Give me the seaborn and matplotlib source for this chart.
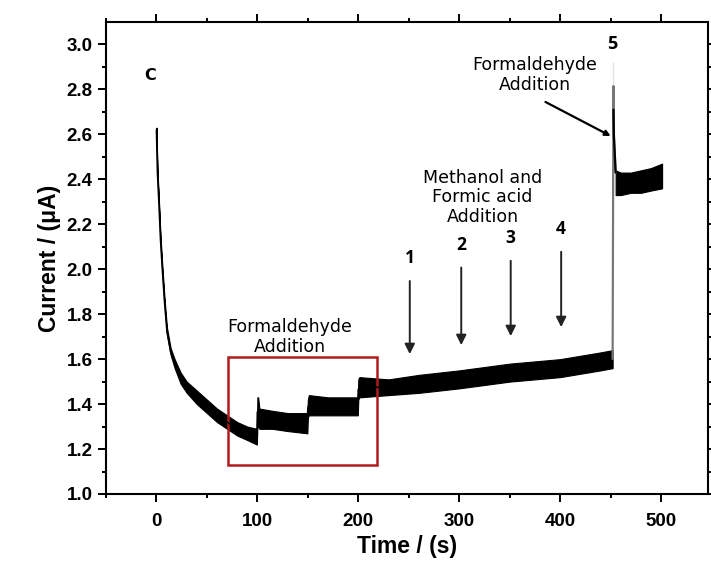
import matplotlib
matplotlib.use("Agg")
import matplotlib.pyplot as plt
from matplotlib.patches import Rectangle
import pandas as pd
import seaborn as sns

# amperometric trace, envelope of the noisy band
time_s = [0, 1, 2.3, 4, 5.6, 8, 10.4, 14, 18, 24, 30, 40, 50, 60, 70, 80, 90, 99.5,
          100, 100.8, 102, 115, 130, 149.5, 150, 151, 170, 199.5, 200, 201, 230,
          260, 300, 350, 400, 440, 452]
current_lo = [2.61, 2.42, 2.30, 2.12, 2.00, 1.84, 1.71, 1.62, 1.56, 1.49, 1.45, 1.40,
              1.36, 1.32, 1.29, 1.26, 1.24, 1.22,
              1.30, 1.30, 1.29, 1.29, 1.28, 1.27, 1.34, 1.35, 1.35, 1.35, 1.42, 1.43, 1.44,
              1.45, 1.47, 1.50, 1.52, 1.55, 1.56]
current_hi = [2.63, 2.44, 2.32, 2.15, 2.03, 1.87, 1.74, 1.65, 1.60, 1.54, 1.50, 1.46,
              1.42, 1.38, 1.35, 1.32, 1.30, 1.29,
              1.43, 1.43, 1.38, 1.37, 1.36, 1.36, 1.42, 1.44, 1.43, 1.43, 1.51, 1.52, 1.51,
              1.53, 1.55, 1.58, 1.60, 1.63, 1.64]

# second formaldehyde addition: spike and new plateau
spike_t = [452, 452.8, 452.8, 453.3, 455]
spike_i = [1.60, 2.92, 2.71, 2.59, 2.43]
plateau_t = [455, 460, 470, 480, 490, 501]
plateau_lo = [2.33, 2.33, 2.34, 2.34, 2.35, 2.36]
plateau_hi = [2.44, 2.43, 2.43, 2.44, 2.45, 2.47]

# methanol / formic acid arrows: (time, label, top, tip)
arrow_t = [251, 302, 351, 401]
arrow_lbl = ["1", "2", "3", "4"]
arrow_top = [1.96, 2.02, 2.05, 2.09]
arrow_tip = [1.61, 1.65, 1.69, 1.73]

sns.set_theme(style="ticks")
plt.rcParams['font.family'] = ['Liberation Sans', 'DejaVu Sans']
plt.rcParams['text.color'] = "black"
plt.rcParams['axes.labelcolor'] = "black"

fig = plt.figure(figsize=(7.11, 5.65), dpi=100)
ax = fig.add_axes([106/711, 71/565, (708-106)/711, (494-22)/565])

trace = pd.DataFrame({"t": time_s, "lo": current_lo, "hi": current_hi})
trace["mid"] = (trace.lo + trace.hi) / 2
ax.fill_between(trace.t, trace.lo, trace.hi, color="black", lw=0.8, edgecolor="black")
sns.lineplot(data=trace, x="t", y="mid", color="black", lw=1.2, ax=ax)

spike = pd.DataFrame({"t": spike_t, "i": spike_i})
sns.lineplot(data=spike, x="t", y="i", color="#777777", lw=1.6, ax=ax, sort=False)
ax.plot(spike_t[2:], spike_i[2:], color="black", lw=1.6)

plat = pd.DataFrame({"t": plateau_t, "lo": plateau_lo, "hi": plateau_hi})
ax.fill_between(plat.t, plat.lo, plat.hi, color="black", lw=0.8, edgecolor="black")

ax.set_xlim(-50, 546.5)
ax.set_ylim(1.0, 3.1)
ax.set_xticks([0, 100, 200, 300, 400, 500])
ax.set_xticks(range(-50, 550, 50), minor=True)
ax.set_yticks([1.0, 1.2, 1.4, 1.6, 1.8, 2.0, 2.2, 2.4, 2.6, 2.8, 3.0])
ax.set_yticks([1.1, 1.3, 1.5, 1.7, 1.9, 2.1, 2.3, 2.5, 2.7, 2.9], minor=True)
ax.set_yticklabels([f"{v:.1f}" for v in ax.get_yticks()])
for s in ax.spines.values():
    s.set_linewidth(1.5)
    s.set_color("black")
ax.tick_params(which="both", direction="out", top=True, right=True, width=1.4, colors="black")
ax.tick_params(which="major", length=6, labelsize=13.5)
ax.tick_params(which="minor", length=3)
ax.tick_params(axis="x", which="major", pad=8)
for lab in ax.get_xticklabels() + ax.get_yticklabels():
    lab.set_fontweight("bold")
ax.set_xlabel("Time / (s)", fontsize=16.5, fontweight="bold", labelpad=3)
ax.set_ylabel("Current / (μA)", fontsize=16.5, fontweight="bold", labelpad=4)

# annotations
note_font = dict(family=['DejaVu Sans'], fontsize=12.5, color="black", ha="center")
ax.text(-6, 2.86, "C", family=['DejaVu Sans'], fontsize=11.5, fontweight="bold", ha="center", va="center")
ax.add_patch(Rectangle((71, 1.129), 148, 0.48, fill=False, edgecolor="#b01c1c", lw=1.8))
ax.text(132, 1.70, "Formaldehyde\nAddition", va="center", linespacing=1.15, **note_font)
ax.text(323, 2.32, "Methanol and\nFormic acid\nAddition", va="center", linespacing=1.1, **note_font)
ax.text(375, 2.865, "Formaldehyde\nAddition", va="center", linespacing=1.15, **note_font)
ax.text(452, 3.0, "5", family=['Open Sans', 'DejaVu Sans'], fontsize=13, fontweight="bold",
        ha="center", va="center")
ax.annotate("", xy=(452.5, 2.587), xytext=(383, 2.75),
            arrowprops=dict(arrowstyle="-|>", color="black", lw=1.6, mutation_scale=8))

for t, lbl, top, tip in zip(arrow_t, arrow_lbl, arrow_top, arrow_tip):
    ax.annotate("", xy=(t, tip), xytext=(t, top),
                arrowprops=dict(arrowstyle="-|>", color="#222222", lw=1.4, mutation_scale=15))
    ax.text(t, top + 0.09, lbl, family=['Open Sans', 'DejaVu Sans'], fontsize=12.5,
            fontweight="bold", ha="center", va="center")

fig.savefig("out.png", dpi=100)
